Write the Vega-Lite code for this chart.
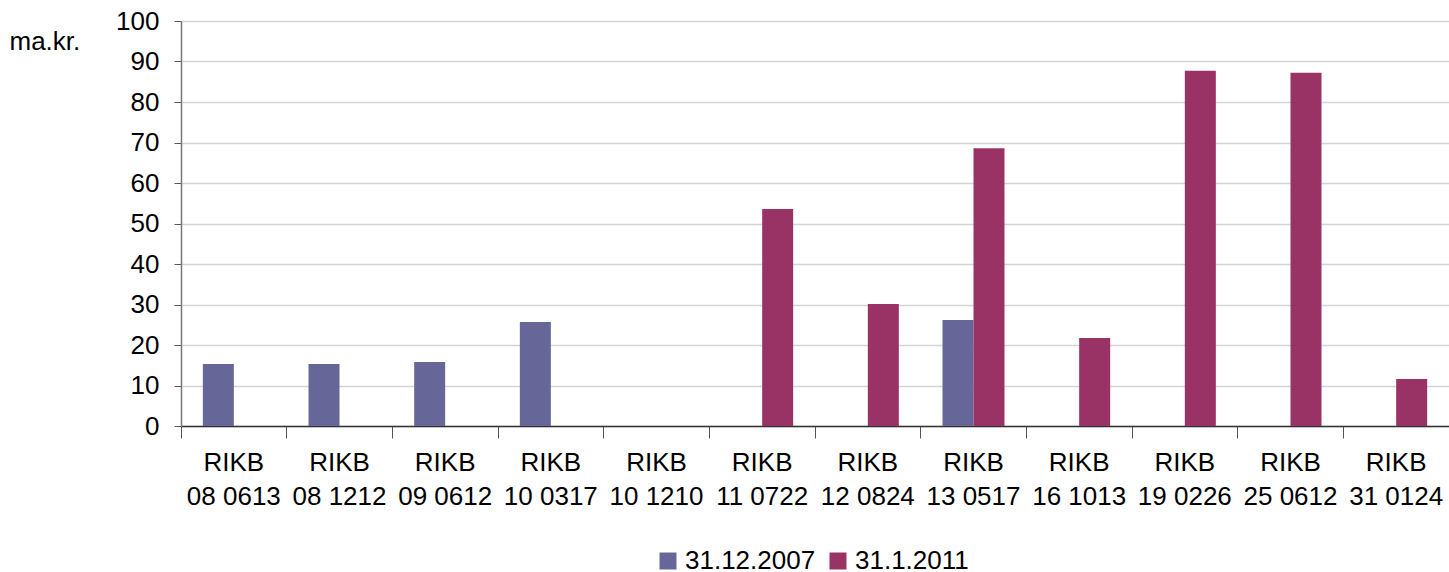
{
  "$schema": "https://vega.github.io/schema/vega-lite/v6.json",
  "width": 1268,
  "height": 405,
  "autosize": "none",
  "padding": {"left": 181, "top": 21, "right": 0, "bottom": 146},
  "background": "white",
  "config": {
    "view": {"stroke": null},
    "font": "Liberation Sans"
  },
  "data": {
    "values": [
      {"bond": "RIKB 08 0613", "date": "31.12.2007", "value": 15.3},
      {"bond": "RIKB 08 1212", "date": "31.12.2007", "value": 15.3},
      {"bond": "RIKB 09 0612", "date": "31.12.2007", "value": 15.8},
      {"bond": "RIKB 10 0317", "date": "31.12.2007", "value": 25.7},
      {"bond": "RIKB 10 1210", "date": "31.12.2007", "value": 0},
      {"bond": "RIKB 11 0722", "date": "31.12.2007", "value": 0},
      {"bond": "RIKB 12 0824", "date": "31.12.2007", "value": 0},
      {"bond": "RIKB 13 0517", "date": "31.12.2007", "value": 26.2},
      {"bond": "RIKB 16 1013", "date": "31.12.2007", "value": 0},
      {"bond": "RIKB 19 0226", "date": "31.12.2007", "value": 0},
      {"bond": "RIKB 25 0612", "date": "31.12.2007", "value": 0},
      {"bond": "RIKB 31 0124", "date": "31.12.2007", "value": 0},
      {"bond": "RIKB 08 0613", "date": "31.1.2011", "value": 0},
      {"bond": "RIKB 08 1212", "date": "31.1.2011", "value": 0},
      {"bond": "RIKB 09 0612", "date": "31.1.2011", "value": 0},
      {"bond": "RIKB 10 0317", "date": "31.1.2011", "value": 0},
      {"bond": "RIKB 10 1210", "date": "31.1.2011", "value": 0},
      {"bond": "RIKB 11 0722", "date": "31.1.2011", "value": 53.6},
      {"bond": "RIKB 12 0824", "date": "31.1.2011", "value": 30.1},
      {"bond": "RIKB 13 0517", "date": "31.1.2011", "value": 68.6},
      {"bond": "RIKB 16 1013", "date": "31.1.2011", "value": 21.7},
      {"bond": "RIKB 19 0226", "date": "31.1.2011", "value": 87.7},
      {"bond": "RIKB 25 0612", "date": "31.1.2011", "value": 87.2},
      {"bond": "RIKB 31 0124", "date": "31.1.2011", "value": 11.6}
    ]
  },
  "mark": {"type": "bar"},
  "encoding": {
    "x": {
      "field": "bond",
      "type": "nominal",
      "sort": null,
      "scale": {"paddingInner": 0, "paddingOuter": 0},
      "axis": {
        "title": null,
        "labelAngle": 0,
        "labelExpr": "['RIKB', substring(datum.label, 5)]",
        "labelFontSize": 26,
        "labelColor": "#000000",
        "labelLineHeight": 34,
        "labelPadding": 11,
        "labelBaseline": "top",
        "bandPosition": 0,
        "tickSize": 12,
        "tickColor": "#555555",
        "domainColor": "#333333",
        "domainWidth": 1.5,
        "grid": false
      }
    },
    "xOffset": {
      "field": "date",
      "type": "nominal",
      "sort": ["31.12.2007", "31.1.2011"],
      "scale": {"paddingInner": 0, "paddingOuter": 0.705}
    },
    "y": {
      "field": "value",
      "type": "quantitative",
      "scale": {"domain": [0, 100], "nice": false},
      "axis": {
        "title": "ma.kr.",
        "titleAngle": 0,
        "titleAlign": "left",
        "titleBaseline": "middle",
        "titleX": -172,
        "titleY": 20,
        "titleFontSize": 26,
        "titleFontWeight": "normal",
        "titleColor": "#000000",
        "values": [0, 10, 20, 30, 40, 50, 60, 70, 80, 90, 100],
        "labelFontSize": 26,
        "labelColor": "#000000",
        "labelPadding": 15,
        "tickSize": 7,
        "tickColor": "#555555",
        "domainColor": "#777777",
        "domainWidth": 1.5,
        "gridColor": "#d4d4d4",
        "gridWidth": 1.5
      }
    },
    "color": {
      "field": "date",
      "type": "nominal",
      "sort": ["31.12.2007", "31.1.2011"],
      "scale": {"domain": ["31.12.2007", "31.1.2011"], "range": ["#666699", "#993366"]},
      "legend": {
        "title": null,
        "orient": "none",
        "direction": "horizontal",
        "legendX": 474,
        "legendY": 527,
        "symbolType": "square",
        "symbolSize": 289,
        "symbolStrokeWidth": 0,
        "labelFontSize": 26,
        "labelColor": "#000000",
        "labelOffset": 4,
        "columnPadding": 9
      }
    }
  }
}
